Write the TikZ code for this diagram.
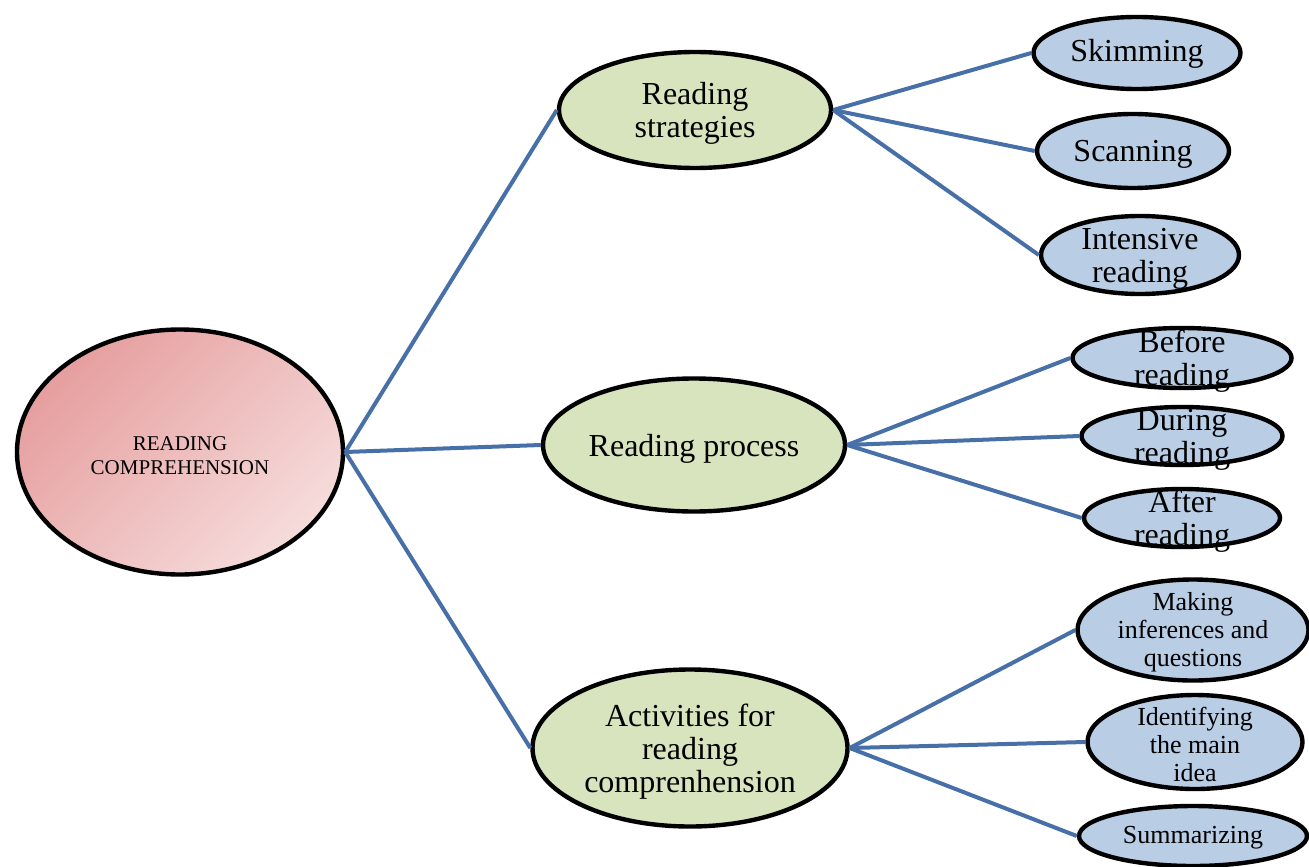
\documentclass[tikz,border=0pt]{standalone}
\usepackage{fontspec}
\setmainfont{Liberation Serif}
\usetikzlibrary{shapes.geometric}
\definecolor{rootdark}{RGB}{230,158,158}
\definecolor{rootlight}{RGB}{246,220,220}
\definecolor{midgreen}{RGB}{215,228,189}
\definecolor{leafblue}{RGB}{185,205,229}
\definecolor{linkblue}{RGB}{72,112,168}

\begin{document}
\begin{tikzpicture}[x=0.5pt,y=-0.5pt,
    oval/.style={ellipse,draw=black,line width=2.2pt,inner sep=0pt},
    rootoval/.style={oval,top color=rootdark,bottom color=rootlight,shading angle=45},
    midoval/.style={oval,fill=midgreen},
    leaf/.style={oval,fill=leafblue},
    roottext/.style={align=center,inner sep=0pt,yshift=-1.8pt,font=\fontsize{10.5}{12}\selectfont},
    bigtext/.style={align=center,inner sep=0pt,yshift=-1.8pt,font=\fontsize{16}{16.5}\selectfont},
    smalltext/.style={align=center,inner sep=0pt,yshift=-1pt,font=\fontsize{13}{14}\selectfont},
    link/.style={draw=linkblue,line width=2pt}]
    \clip (0,0) rectangle (1309,866);

    \node[rootoval,minimum width=163pt,minimum height=122.5pt,label={[roottext]center:{READING\\COMPREHENSION}}] (comp) at (180,452) {};

    \node[midoval,minimum width=136pt,minimum height=58pt,label={[bigtext]center:{Reading\\strategies}}] (strat) at (695,110) {};
    \node[midoval,minimum width=151pt,minimum height=66.5pt,label={[bigtext]center:Reading process}] (proc) at (694,445) {};
    \node[midoval,minimum width=157.5pt,minimum height=78.5pt,label={[bigtext]center:{Activities for\\reading\\comprenhension}}] (activ) at (690,748) {};

    \node[leaf,minimum width=103.5pt,minimum height=36pt,label={[bigtext,yshift=1.5pt]center:Skimming}] (skim) at (1137,53) {};
    \node[leaf,minimum width=96pt,minimum height=37pt,label={[bigtext]center:Scanning}] (scan) at (1133,151) {};
    \node[leaf,minimum width=99pt,minimum height=39pt,label={[bigtext]center:{Intensive\\reading}}] (inten) at (1140,255) {};

    \node[leaf,minimum width=109.5pt,minimum height=30pt,label={[bigtext]center:{Before\\reading}}] (before) at (1182,358) {};
    \node[leaf,minimum width=100.5pt,minimum height=29pt,label={[bigtext]center:{During\\reading}}] (during) at (1182,436) {};
    \node[leaf,minimum width=98pt,minimum height=29pt,label={[bigtext]center:{After\\reading}}] (after) at (1182,518) {};

    \node[leaf,minimum width=115.5pt,minimum height=50.5pt,label={[smalltext]center:{Making\\inferences and\\questions}}] (infer) at (1193,630) {};
    \node[leaf,minimum width=107.5pt,minimum height=47pt,label={[smalltext]center:{Identifying\\the main\\idea}}] (ident) at (1195,742) {};
    \node[leaf,minimum width=114pt,minimum height=30pt,label={[smalltext]center:Summarizing}] (summ) at (1193,836) {};

    \draw[link] (comp.east) -- (strat.west);
    \draw[link] (comp.east) -- (proc.west);
    \draw[link] (comp.east) -- (activ.west);

    \draw[link] (strat.east) -- (skim.west);
    \draw[link] (strat.east) -- (scan.west);
    \draw[link] (strat.east) -- (inten.west);

    \draw[link] (proc.east) -- (before.west);
    \draw[link] (proc.east) -- (during.west);
    \draw[link] (proc.east) -- (after.west);

    \draw[link] (activ.east) -- (infer.west);
    \draw[link] (activ.east) -- (ident.west);
    \draw[link] (activ.east) -- (summ.west);
\end{tikzpicture}
\end{document}
